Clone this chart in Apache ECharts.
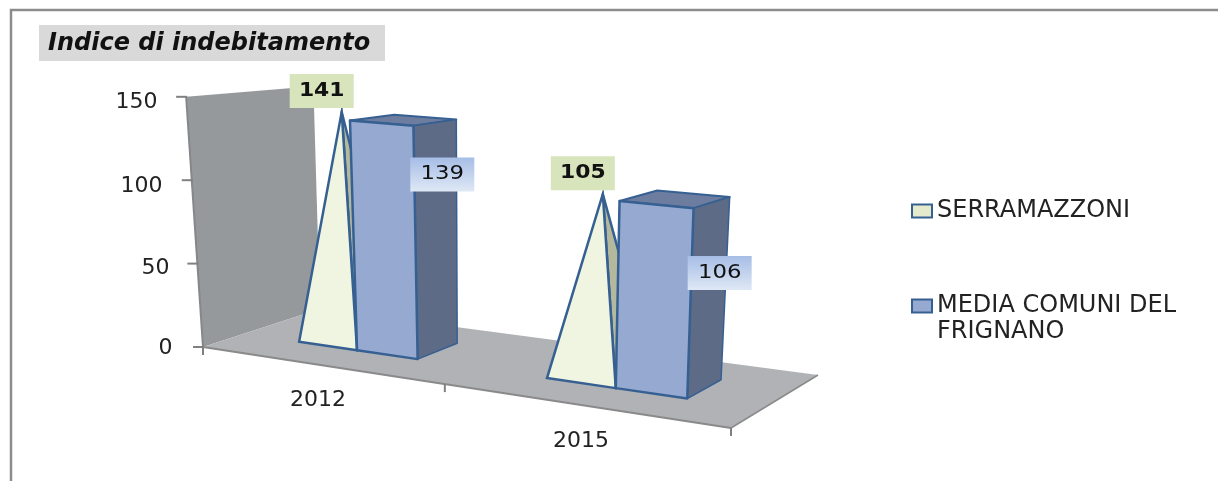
<!DOCTYPE html>
<html><head><meta charset="utf-8">
<style>html,body{margin:0;padding:0;background:#fff}#c{width:1218px;height:481px}</style>
<script src="https://cdn.jsdelivr.net/npm/echarts@6/dist/echarts.min.js"></script>
</head><body><div id="c"></div>
<script>
const categories = ['2012', '2015'];
const serrazzoniValues = [141, 105];
const mediaFrignanoValues = [139, 106];
const yTicks = [0, 50, 100, 150];
const titleText = 'Indice di indebitamento';
const serieA = 'SERRAMAZZONI';
const serieB = 'MEDIA COMUNI DEL FRIGNANO';

const G = {left: 186.5, width: 526, top: 99, height: 248};
const FONT = '"DejaVu Sans"';
const EDGE = '#366092';
const yMax = yTicks[yTicks.length - 1];
const boxLabelShift = [[-14, 55], [-10, 76]];
const tickPad = {0: [2, 10], 50: [8, 13], 100: [10, 20], 150: [6, 25]};

// oblique projection: grid pixel x + height fraction + depth (0 front, 1 back) -> screen
function project(px, frac, d) {
  const t = (px - G.left) / G.width;
  const u = t + 0.168 * t * (t - 1);
  const x = 203 + 528 * u + d * (117 - 30 * u);
  const y = 347 + 81 * u - d * (38 + 15 * u);
  const S = 237 + 0.065 * x - 35 * d;
  const lean = -27 + 0.05 * x + 4.4 * d;
  return [x + lean * frac, y - S * frac];
}
const frac = (api, v) => {
  const y0 = api.coord([0, 0])[1], yv = api.coord([0, v])[1];
  return (y0 - yv) / G.height;
};
const poly = (points, fill, stroke, lw, join) => ({
  type: 'polygon', shape: {points},
  style: {fill, stroke: stroke || null, lineWidth: lw || 0, lineJoin: join || 'round'}
});
const seg = (a, b, color, lw) => ({
  type: 'line', shape: {x1: a[0], y1: a[1], x2: b[0], y2: b[1]},
  style: {stroke: color, lineWidth: lw}
});

function renderBackdrop(params, api) {
  const L = G.left, R = G.left + G.width, M = G.left + G.width / 2;
  const c = [
    poly([project(L,0,0), project(L,1,0), project(L,1,1), project(L,0,1)], '#96999c'),
    poly([project(L,0,0), project(R,0,0), project(R,0,1), project(L,0,1)], '#b0b2b6'),
    seg(project(L,0,0), project(L,1,0), '#85878a', 2),
    seg(project(L,0,0), project(R,0,0), '#8a8a8a', 2),
    seg(project(R,0,0), project(R,0,1), '#8a8a8a', 1.5)
  ];
  [L, M, R].forEach(x => { const p = project(x,0,0); c.push(seg(p, [p[0], p[1] + 8], '#808080', 2)); });
  yTicks.forEach(v => {
    const p = project(L, frac(api, v), 0);
    c.push(seg([p[0] - 10, p[1]], [p[0] + 1, p[1]], '#808080', 2));
  });
  return {type: 'group', children: c};
}

function dataLabel(cx, cy, text, bold, fill) {
  return [
    {type: 'rect', z2: 10, shape: {x: cx - 32, y: cy - 17, width: 64, height: 34}, style: {fill}},
    {type: 'text', z2: 11, x: cx, y: cy, scaleX: bold ? 1.15 : 1.2,
     style: {text: String(text), align: 'center', verticalAlign: 'middle', fill: '#111',
             fontFamily: FONT, fontSize: 19, fontWeight: bold ? 'bold' : 'normal'}}
  ];
}

function renderPyramid(params, api) {
  const i = api.value(0), v = api.value(1);
  const c = api.coord([i, v])[0], bw = api.size([1, 0])[0] / 4;
  const f = frac(api, v);
  const xL = c - bw, xR = c;
  const A = project(xL, 0, .35), B = project(xR, 0, .35), C = project(xR, 0, .72);
  const apex = project(c - bw / 2, f, .535);
  return {type: 'group', children: [
    poly([B, C, apex], '#b4b89c', EDGE, 2.5),
    poly([A, B, apex], '#f0f5e1', EDGE, 2.5, 'miter'),
    ...dataLabel(apex[0] - 20, apex[1] - 21, v, true, '#d7e4bc')
  ]};
}

function renderBox(params, api) {
  const i = api.value(0), v = api.value(1);
  const c = api.coord([i, v])[0], bw = api.size([1, 0])[0] / 4;
  const f = frac(api, v);
  const xL = c, xR = c + bw;
  const a = project(xL, 0, .35), b = project(xR, 0, .35), e = project(xR, 0, .72);
  const at = project(xL, f, .35), bt = project(xR, f, .35), et = project(xR, f, .72), dt = project(xL, f, .72);
  const s = boxLabelShift[i];
  const grad = new echarts.graphic.LinearGradient(0, 0, 0, 1, [
    {offset: 0, color: '#a6bde6'}, {offset: 1, color: '#dfe8f5'}]);
  return {type: 'group', children: [
    poly([at, bt, et, dt], '#6c7d9f', EDGE, 2),
    poly([b, e, et, bt], '#5d6b87', EDGE, 1.5),
    poly([a, b, bt, at], '#95a9d1', EDGE, 2.5),
    ...dataLabel(et[0] + s[0], et[1] + s[1], v, false, grad)
  ]};
}

const chart = echarts.init(document.getElementById('c'), null, {renderer: 'canvas'});
chart.setOption({
  animation: false,
  backgroundColor: '#fff',
  title: {
    text: titleText, left: 48, top: 31,
    textStyle: {fontFamily: FONT, fontStyle: 'italic', fontWeight: 'bold', fontSize: 24, color: '#111', lineHeight: 26},
    padding: 0
  },
  graphic: [
    {type: 'rect', z: -10, shape: {x: 39, y: 25, width: 346, height: 36}, style: {fill: '#d9d9d9'}},
    {type: 'polyline', z: -10, shape: {points: [[1218, 10], [11, 10], [11, 481]]},
     style: {stroke: '#8c8c8c', lineWidth: 2.5, fill: null}}
  ],
  legend: {
    orient: 'vertical', left: 911, top: 198, itemWidth: 20, itemHeight: 13, itemGap: 43, padding: 0,
    icon: 'rect', selectedMode: false,
    data: [serieA, serieB],
    formatter: n => n === serieB ? '\nMEDIA COMUNI DEL\nFRIGNANO' : n,
    textStyle: {fontFamily: FONT, fontSize: 24, lineHeight: 26, color: '#222'}
  },
  grid: {left: G.left, top: G.top, width: G.width, height: G.height, containLabel: false},
  xAxis: {
    type: 'category', data: categories,
    axisLine: {show: false}, axisTick: {show: false},
    axisLabel: {
      margin: 8, interval: 0,
      formatter: (v, i) => `{y${i}|${v}}`,
      rich: {
        y0: {fontFamily: FONT, fontSize: 22, lineHeight: 24, color: '#222', padding: [67, 0, 0, 0]},
        y1: {fontFamily: FONT, fontSize: 22, lineHeight: 24, color: '#222', padding: [149, 0, 0, 0]}
      }
    }
  },
  yAxis: {
    type: 'value', min: 0, max: yMax, interval: 50,
    axisLine: {show: false}, axisTick: {show: false}, splitLine: {show: false},
    axisLabel: {
      margin: 4,
      formatter: v => `{t${v}|${v}}`,
      rich: Object.fromEntries(yTicks.map(v => ['t' + v,
        {fontFamily: FONT, fontSize: 22, color: '#222', padding: [tickPad[v][0], tickPad[v][1], 0, 0]}]))
    }
  },
  series: [
    {type: 'custom', name: 'sfondo', silent: true, renderItem: renderBackdrop, data: [[0, 0]], encode: {x: 0, y: 1}},
    {type: 'custom', name: serieA, renderItem: renderPyramid,
     itemStyle: {color: '#e4ebcd', borderColor: EDGE, borderWidth: 2},
     data: serrazzoniValues.map((v, i) => [i, v]), encode: {x: 0, y: 1}},
    {type: 'custom', name: serieB, renderItem: renderBox,
     itemStyle: {color: '#95a9d1', borderColor: EDGE, borderWidth: 2},
     data: mediaFrignanoValues.map((v, i) => [i, v]), encode: {x: 0, y: 1}}
  ]
});
</script></body></html>
